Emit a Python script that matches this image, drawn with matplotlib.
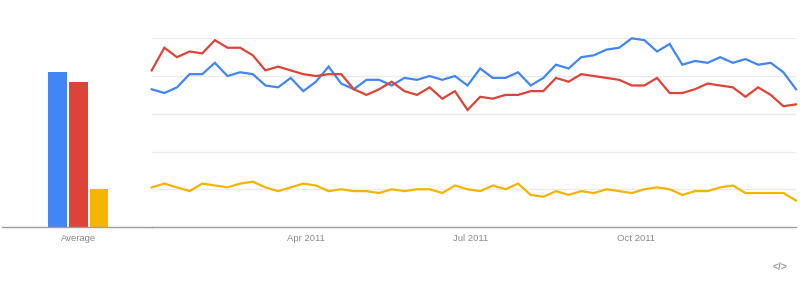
import numpy as np
import pandas as pd
import matplotlib
matplotlib.use("Agg")
import matplotlib.pyplot as plt
import matplotlib.dates as mdates

plt.rcParams["font.family"] = ["Liberation Sans", "DejaVu Sans"]

# weekly interest, 2011 (Google Trends style, 0-100)
week_starts = pd.date_range("2011-01-02", periods=52, freq="W-SUN")

blue = [73, 71, 74, 81, 81, 87, 80, 82, 81, 75, 74, 79, 72,
        77, 85, 76, 73, 78, 78, 75, 79, 78, 80, 78, 80, 75,
        84, 79, 79, 82, 75, 79, 86, 84, 90, 91, 94, 95, 100,
        99, 93, 97, 86, 88, 87, 90, 87, 89, 86, 87, 82, 73]
red = [83, 95, 90, 93, 92, 99, 95, 95, 91, 83, 85, 83, 81,
       80, 81, 81, 73, 70, 73, 77, 72, 70, 74, 68, 72, 62,
       69, 68, 70, 70, 72, 72, 79, 77, 81, 80, 79, 78, 75,
       75, 79, 71, 71, 73, 76, 75, 74, 69, 74, 70, 64, 65]
yellow = [21, 23, 21, 19, 23, 22, 21, 23, 24, 21, 19, 21, 23,
          22, 19, 20, 19, 19, 18, 20, 19, 20, 20, 18, 22, 20,
          19, 22, 20, 23, 17, 16, 19, 17, 19, 18, 20, 19, 18,
          20, 21, 20, 17, 19, 19, 21, 22, 18, 18, 18, 18, 14]

averages = [82, 77, 20]
colors = ["#4285F4", "#DB4437", "#F4B400"]

tick_dates = ["2011-04-01", "2011-07-01", "2011-10-01"]
tick_labels = ["Apr 2011", "Jul 2011", "Oct 2011"]

axis_grey = "#9E9E9E"
grid_grey = "#EBEBEB"
text_grey = "#8A8A8A"

fig = plt.figure(figsize=(8, 2.83), dpi=100)

bottom = (283 - 227) / 283
height = (227 - 38.3) / 283

# left: averages
axb = fig.add_axes([0.002, bottom, 151.7 / 800 - 0.002, height])
axb.bar(range(len(averages)), averages, width=0.91, color=colors)
axb.set_xlim(-2.72, 4.55)
axb.set_ylim(0, 100)
axb.set_xticks([1])
axb.set_xticklabels(["Average"])
axb.set_yticks([])

# right: weekly lines
axl = fig.add_axes([151.7 / 800, bottom, 644.3 / 800, height])
x = week_starts + pd.Timedelta(hours=84)
for series, c in zip([blue, red, yellow], colors):
    axl.plot(x, series, color=c, lw=1.6, clip_on=False, solid_joinstyle="miter")
axl.set_xlim(x[0], x[-1])
axl.set_ylim(0, 100)
axl.set_yticks([20, 40, 60, 80, 100])
axl.yaxis.grid(True, color=grid_grey, lw=1)
axl.set_axisbelow(True)
axl.tick_params(axis="y", length=0, labelleft=False)
axl.set_xticks(pd.to_datetime(tick_dates))
axl.set_xticklabels(tick_labels)

for ax in (axb, axl):
    for side in ("top", "left", "right"):
        ax.spines[side].set_visible(False)
    ax.spines["bottom"].set_color(axis_grey)
    ax.spines["bottom"].set_linewidth(1)
    ax.tick_params(axis="x", length=0, pad=5, labelsize=6.8, labelcolor=text_grey)
    ax.set_facecolor("none")

fig.text(780 / 800, 1 - 266.5 / 283, "</>", ha="center", va="center",
         fontsize=7.5, fontweight="bold", color="#9E9E9E")

fig.savefig("out.png", dpi=100)
